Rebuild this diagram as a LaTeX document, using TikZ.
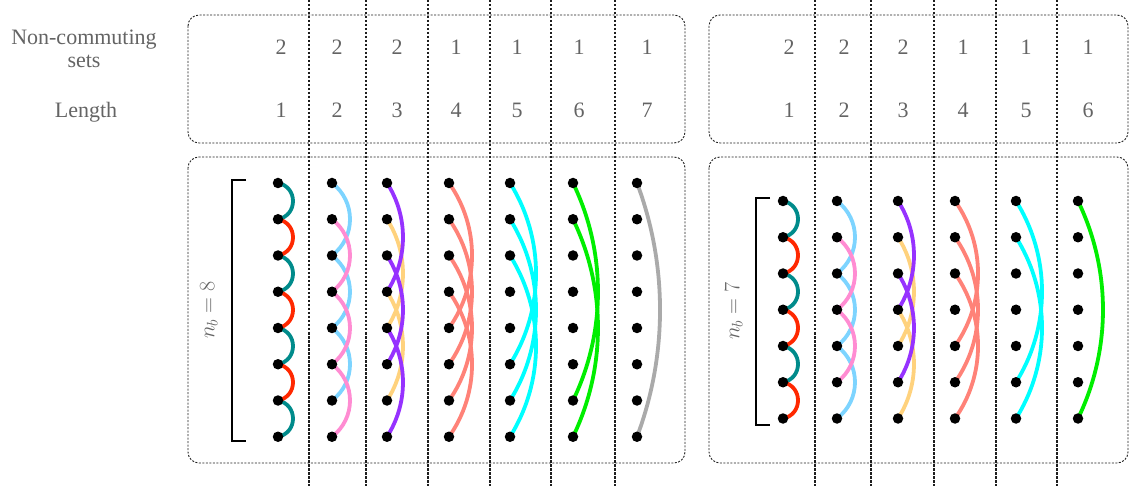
\RequirePackage{fix-cm}
\documentclass[tikz,border=0pt]{standalone}
\usepackage{fontspec}
\setmainfont{Liberation Serif}
\newfontfamily\lblfont{Liberation Serif}
\usetikzlibrary{backgrounds}
\definecolor{cteal}{RGB}{0,139,139}
\definecolor{cred}{RGB}{255,40,0}
\definecolor{cblue}{RGB}{125,212,255}
\definecolor{cpink}{RGB}{255,140,210}
\definecolor{cpurple}{RGB}{150,50,255}
\definecolor{corange}{RGB}{255,210,125}
\definecolor{csalmon}{RGB}{255,130,120}
\definecolor{ccyan}{RGB}{0,255,255}
\definecolor{cgreen}{RGB}{0,238,0}
\definecolor{cgrey}{RGB}{170,170,170}
\definecolor{txtgrey}{RGB}{100,100,100}
\definecolor{dashcol}{RGB}{30,30,30}
% control offsets per length (dx, dy)
\def\cxa{20}\def\cya{3.8}
\def\cxb{24}\def\cyb{18.3}
\def\cxc{21.3}\def\cyc{33.2}
\def\cxd{30.7}\def\cyd{43.5}
\def\cxe{34.7}\def\cye{55.5}
\def\cxf{33.3}\def\cyf{68.8}
\def\cxg{30.7}\def\cyg{81.9}
\newcommand\lnk[4]{\draw[arcline,#4] (#1.center) .. controls +(\csname cx#3\endcsname,\csname cy#3\endcsname) and +(\csname cx#3\endcsname,-\csname cy#3\endcsname) .. (#2.center);}
\newcommand\dotcol[4]{\foreach \i in {1,...,#4} {\node[dotnode] (#1-\i) at (#2,{#3+36.25*(\i-1)}) {};}}
\begin{document}
\begin{tikzpicture}[x=1pt,y=-1pt,
  dotnode/.style={circle,fill=black,draw=none,minimum size=10.5pt,inner sep=0pt},
  arcline/.style={line width=3.8pt},
  panel/.style={draw=dashcol,line width=0.9pt,dash pattern=on 2pt off 1.5pt,rounded corners=11pt},
  vline/.style={draw=dashcol,line width=1.3pt,dash pattern=on 2.5pt off 1.5pt},
  lbl/.style={text=txtgrey,font=\lblfont\fontsize{22}{26}\selectfont,inner sep=0pt,anchor=base},
  nblbl/.style={text=txtgrey,font=\fontsize{22}{26}\selectfont,rotate=90,inner sep=0pt},
  brk/.style={draw=black,line width=1.5pt}]
\useasboundingbox (0,0) rectangle (1130,486);
% panels
\draw[panel] (188,15) rectangle (685,143);
\draw[panel] (188,157) rectangle (685,463);
\draw[panel] (709,15) rectangle (1128,143);
\draw[panel] (709,157) rectangle (1128,463);
% vertical dashed lines
\foreach \x in {309,366,428,490,551,615,815,871,934,996,1057}
  \draw[vline] (\x,0) -- (\x,486);
% row labels
\node[lbl] (nc1) at (84,45) {Non-commuting};
\node[lbl] (nc2) at (84,68) {sets};
\node[lbl] (len) at (86,118) {Length};
% numbers left
\foreach \x/\s/\l [count=\k] in {281/2/1,337/2/2,397/2/3,456/1/4,517/1/5,579/1/6,647/1/7} {
  \node[lbl] (ls\k) at (\x,55) {\s};
  \node[lbl] (ll\k) at (\x,118) {\l};
}
\foreach \x/\s/\l [count=\k] in {789/2/1,844/2/2,903/2/3,963/1/4,1026/1/5,1088/1/6} {
  \node[lbl] (rs\k) at (\x,55) {\s};
  \node[lbl] (rl\k) at (\x,118) {\l};
}
% n_b labels and brackets
\node[nblbl] (nbl) at (209,310) {$n_b = 8$};
\node[nblbl] (nbr) at (734,311) {$n_b = 7$};
\draw[brk] (246,180) -- (232,180) -- (232,441) -- (246,441);
\draw[brk] (770,198) -- (756,198) -- (756,425) -- (770,425);
% dots
\dotcol{la}{278}{183}{8}
\dotcol{lb}{332}{183}{8}
\dotcol{lc}{387}{183}{8}
\dotcol{ld}{449}{183}{8}
\dotcol{le}{510}{183}{8}
\dotcol{lf}{573}{183}{8}
\dotcol{lg}{637}{183}{8}
\dotcol{ra}{783}{201}{7}
\dotcol{rb}{837}{201}{7}
\dotcol{rc}{898}{201}{7}
\dotcol{rd}{955}{201}{7}
\dotcol{re}{1016}{201}{7}
\dotcol{rf}{1078}{201}{7}
% arcs
\begin{scope}[on background layer]
% left, length 1
\lnk{la-1}{la-2}{a}{cteal}\lnk{la-3}{la-4}{a}{cteal}\lnk{la-5}{la-6}{a}{cteal}\lnk{la-7}{la-8}{a}{cteal}
\lnk{la-2}{la-3}{a}{cred}\lnk{la-4}{la-5}{a}{cred}\lnk{la-6}{la-7}{a}{cred}
% left, length 2
\lnk{lb-1}{lb-3}{b}{cblue}\lnk{lb-3}{lb-5}{b}{cblue}\lnk{lb-5}{lb-7}{b}{cblue}
\lnk{lb-2}{lb-4}{b}{cpink}\lnk{lb-4}{lb-6}{b}{cpink}\lnk{lb-6}{lb-8}{b}{cpink}
% left, length 3
\lnk{lc-2}{lc-5}{c}{corange}\lnk{lc-4}{lc-7}{c}{corange}
\lnk{lc-1}{lc-4}{c}{cpurple}\lnk{lc-3}{lc-6}{c}{cpurple}\lnk{lc-5}{lc-8}{c}{cpurple}
% left, length 4
\lnk{ld-1}{ld-5}{d}{csalmon}\lnk{ld-2}{ld-6}{d}{csalmon}\lnk{ld-3}{ld-7}{d}{csalmon}\lnk{ld-4}{ld-8}{d}{csalmon}
% left, length 5
\lnk{le-1}{le-6}{e}{ccyan}\lnk{le-2}{le-7}{e}{ccyan}\lnk{le-3}{le-8}{e}{ccyan}
% left, length 6
\lnk{lf-1}{lf-7}{f}{cgreen}\lnk{lf-2}{lf-8}{f}{cgreen}
% left, length 7
\lnk{lg-1}{lg-8}{g}{cgrey}
% right, length 1
\lnk{ra-1}{ra-2}{a}{cteal}\lnk{ra-3}{ra-4}{a}{cteal}\lnk{ra-5}{ra-6}{a}{cteal}
\lnk{ra-2}{ra-3}{a}{cred}\lnk{ra-4}{ra-5}{a}{cred}\lnk{ra-6}{ra-7}{a}{cred}
% right, length 2
\lnk{rb-1}{rb-3}{b}{cblue}\lnk{rb-3}{rb-5}{b}{cblue}\lnk{rb-5}{rb-7}{b}{cblue}
\lnk{rb-2}{rb-4}{b}{cpink}\lnk{rb-4}{rb-6}{b}{cpink}
% right, length 3
\lnk{rc-2}{rc-5}{c}{corange}\lnk{rc-4}{rc-7}{c}{corange}
\lnk{rc-1}{rc-4}{c}{cpurple}\lnk{rc-3}{rc-6}{c}{cpurple}
% right, length 4
\lnk{rd-1}{rd-5}{d}{csalmon}\lnk{rd-2}{rd-6}{d}{csalmon}\lnk{rd-3}{rd-7}{d}{csalmon}
% right, length 5
\lnk{re-1}{re-6}{e}{ccyan}\lnk{re-2}{re-7}{e}{ccyan}
% right, length 6
\lnk{rf-1}{rf-7}{f}{cgreen}
\end{scope}
\end{tikzpicture}
\end{document}
